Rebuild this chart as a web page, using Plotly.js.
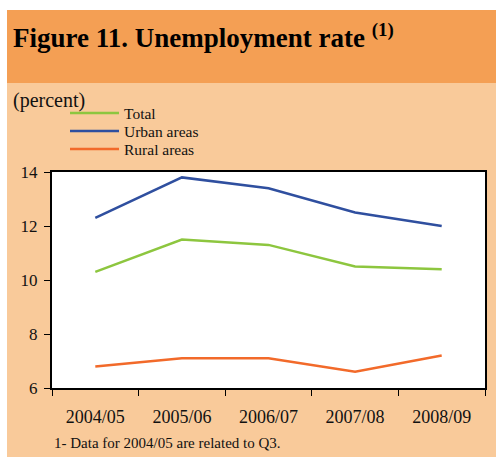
<!DOCTYPE html>
<html><head><meta charset="utf-8">
<script src="https://cdn.plot.ly/plotly-3.0.1.min.js"></script>
<style>html,body{margin:0;padding:0;background:#fff;}#chart{width:496px;height:460px;}</style>
</head><body><div id="chart"></div>
<script>
const categories = ["2004/05", "2005/06", "2006/07", "2007/08", "2008/09"];
const totalRate = [10.3, 11.5, 11.3, 10.5, 10.4];
const urbanRate = [12.3, 13.8, 13.4, 12.5, 12.0];
const ruralRate = [6.8, 7.1, 7.1, 6.6, 7.2];
const seriesNames = ["Total", "Urban areas", "Rural areas"];
const seriesColors = ["#8DC63F", "#2F4F9F", "#F26A2A"];

const serif = "Liberation Serif";
const L = 52, R = 11, T = 172, B = 72, W = 496, H = 460;
const pw = W - L - R, ph = H - T - B;
const px = x => (x - L) / pw;
const py = y => (H - B - y) / ph;

const seriesValues = [totalRate, urbanRate, ruralRate];
const traces = seriesValues.map((vals, i) => ({
  x: categories, y: vals, name: seriesNames[i], mode: "lines",
  line: {color: seriesColors[i], width: 2.5}, showlegend: false
}));

const shapes = [
  {type: "rect", xref: "paper", yref: "paper", x0: px(0), x1: px(W), y0: py(0), y1: py(10), fillcolor: "#FFFFFF", line: {width: 0}, layer: "below"},
  {type: "rect", xref: "paper", yref: "paper", x0: px(0), x1: px(7), y0: py(0), y1: py(H), fillcolor: "#FFFFFF", line: {width: 0}, layer: "below"},
  {type: "rect", xref: "paper", yref: "paper", x0: px(7), x1: px(W), y0: py(10), y1: py(83), fillcolor: "#F49F54", line: {width: 0}, layer: "below"},
  {type: "rect", xref: "paper", yref: "paper", x0: px(0), x1: px(W), y0: py(457), y1: py(H), fillcolor: "#FFFFFF", line: {width: 0}, layer: "below"}
];
const annotations = [
  {text: "(percent)", xref: "paper", yref: "paper", x: px(11), y: py(100), xanchor: "left", yanchor: "middle", showarrow: false,
   font: {family: serif, size: 20, color: "#111"}},
  {text: "1- Data for 2004/05 are related to Q3.", xref: "paper", yref: "paper", x: px(52), y: py(443), xanchor: "left", yanchor: "middle", showarrow: false,
   font: {family: serif, size: 15, color: "#111"}}
];
// legend keys
const legendY = [113, 131, 149];
seriesNames.forEach((nm, i) => {
  shapes.push({type: "line", xref: "paper", yref: "paper", x0: px(70), x1: px(119), y0: py(legendY[i]), y1: py(legendY[i]),
               line: {color: seriesColors[i], width: 2.5}});
  annotations.push({text: nm, xref: "paper", yref: "paper", x: px(122), y: py(legendY[i]), xanchor: "left", yanchor: "middle",
                    showarrow: false, font: {family: serif, size: 15.5, color: "#111"}});
});

const layout = {
  width: W, height: H,
  margin: {l: L, r: R, t: T, b: B, pad: 0},
  paper_bgcolor: "#F9CA9A",
  plot_bgcolor: "#FFFFFF",
  showlegend: false,
  title: {text: "<b>Figure 11. Unemployment rate <sup>(1)</sup></b>", x: 13 / W, xanchor: "left", xref: "container",
          yref: "container", y: 1 - 38 / H, yanchor: "middle", font: {family: serif, size: 27, color: "#000"}},
  xaxis: {type: "category", range: [-0.5, 4.5], showline: true, linecolor: "#000", linewidth: 2, mirror: true,
          ticks: "outside", tickson: "boundaries", ticklen: 6, tickcolor: "#000", tickwidth: 1,
          showgrid: false, zeroline: false, ticklabelstandoff: 11,
          tickfont: {family: serif, size: 18, color: "#111"}},
  yaxis: {range: [6, 14], dtick: 2, showline: true, linecolor: "#000", linewidth: 2, mirror: true,
          ticks: "outside", ticklen: 6, tickcolor: "#000", tickwidth: 1, showgrid: false, zeroline: false,
          ticklabelstandoff: 3,
          tickfont: {family: serif, size: 17, color: "#111"}},
  shapes: shapes,
  annotations: annotations
};

Plotly.newPlot("chart", traces, layout, {displayModeBar: false, staticPlot: true});
</script></body></html>
